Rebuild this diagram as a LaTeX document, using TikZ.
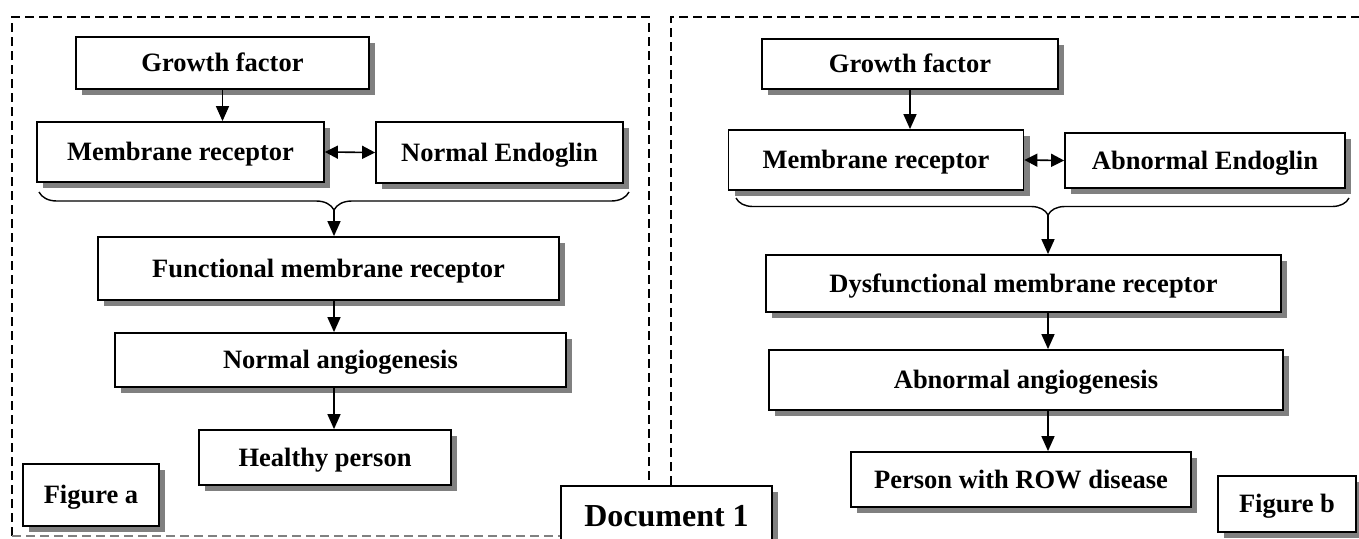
\documentclass[tikz,border=0pt]{standalone}
\usepackage{fontspec}
\setmainfont{Liberation Serif}
\usetikzlibrary{shadows,arrows.meta,decorations.pathreplacing}
\begin{document}
\begin{tikzpicture}[x=1pt,y=-1pt,
  box/.style={draw=black, line width=1.8pt, fill=white, inner sep=0pt,
    font=\fontsize{26.5}{30}\selectfont\bfseries, text height=17.5pt, text depth=0pt,
    drop shadow={shadow xshift=6pt, shadow yshift=-6pt, fill=black!50, opacity=1}},
  arr/.style={line width=1.5pt, -{Triangle[length=15pt,width=13pt]}},
  darr/.style={line width=1.6pt, {Triangle[length=13pt,width=13pt]}-{Triangle[length=13pt,width=13pt]}},
  frame/.style={line width=1.6pt, dash pattern=on 9pt off 5pt},
  bracestyle/.style={line width=1.4pt, decorate}
]
\useasboundingbox (0,0) rectangle (1359,538);
\clip (0,0) rectangle (1359,538);
\fill[white] (0,0) rectangle (1359,538);

% frames
\draw[frame] (12,536) -- (12,17) -- (649,17) -- (649,485);
\draw[frame, black!50] (12,536) -- (561,536);
\draw[frame] (671,485) -- (671,17) -- (1375,17);

% left figure
\node[box, minimum width=293pt, minimum height=52pt] (gfA) at (222.5,63) {Growth factor};
\node[box, minimum width=287pt, minimum height=60pt] (mrA) at (180.5,152) {Membrane receptor};
\node[box, minimum width=247pt, minimum height=61pt] (neA) at (499.5,152.5) {Normal Endoglin};
\node[box, minimum width=461pt, minimum height=63pt] (fmA) at (328.5,268.5) {Functional membrane receptor};
\node[box, minimum width=451pt, minimum height=54pt] (naA) at (340.5,360) {Normal angiogenesis};
\node[box, minimum width=252pt, minimum height=55pt] (hpA) at (325,457.5) {Healthy person};
\node[box, minimum width=136pt, minimum height=62pt] (figA) at (91,495) {Figure a};

\draw[bracestyle, decoration={brace, mirror, amplitude=18pt}] (39,192) -- (629,192);
\coordinate (tipA) at (334,210);
\draw[arr] (gfA.south) -- (gfA.south |- mrA.north);
\draw[darr] (mrA.east) -- (neA.west);
\draw[arr] (tipA) -- (tipA |- fmA.north);
\draw[arr] (fmA.south -| tipA) -- (naA.north -| tipA);
\draw[arr] (naA.south -| tipA) -- (hpA.north -| tipA);

% right figure
\node[box, minimum width=296pt, minimum height=50pt] (gfB) at (910,64) {Growth factor};
\node[box, minimum width=295pt, minimum height=60pt] (mrB) at (876,160) {Membrane receptor};
\node[box, minimum width=280pt, minimum height=55pt] (aeB) at (1205,160.5) {Abnormal Endoglin};
\node[box, minimum width=515pt, minimum height=57pt] (dmB) at (1023.5,283.5) {Dysfunctional membrane receptor};
\node[box, minimum width=514pt, minimum height=60pt] (aaB) at (1026,380) {Abnormal angiogenesis};
\node[box, minimum width=340pt, minimum height=55pt] (pwB) at (1021,479.5) {Person with ROW disease};
\node[box, minimum width=138pt, minimum height=56pt] (figB) at (1287,504) {Figure b};

\draw[bracestyle, decoration={brace, mirror, amplitude=17pt, aspect=0.509}] (736,198) -- (1349,198);
\coordinate (tipB) at (1048,215);
\draw[arr] (gfB.south) -- (gfB.south |- mrB.north);
\draw[darr] (mrB.east) -- (aeB.west);
\draw[arr] (tipB) -- (tipB |- dmB.north);
\draw[arr] (dmB.south -| tipB) -- (aaB.north -| tipB);
\draw[arr] (aaB.south -| tipB) -- (pwB.north -| tipB);

% document label
\node[box, font=\fontsize{32}{36}\selectfont\bfseries, text height=21pt, minimum width=211pt, inner ysep=20pt, anchor=north] (doc) at (666.5,485) {Document 1};
\end{tikzpicture}
\end{document}
